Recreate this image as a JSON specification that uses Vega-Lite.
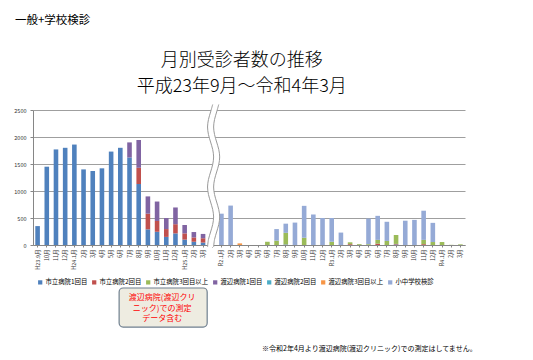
{
  "$schema": "https://vega.github.io/schema/vega-lite/v6.json",
  "width": 432,
  "height": 135,
  "autosize": {"type": "none"},
  "padding": {"left": 33, "top": 110, "right": 68, "bottom": 115},
  "background": "white",
  "config": {
    "view": {"stroke": null},
    "numberFormat": "d",
    "axisY": {
      "tickCount": 5,
      "grid": true,
      "gridColor": "#868686",
      "gridWidth": 0.8,
      "domainColor": "#868686",
      "tickColor": "#868686",
      "tickSize": 3,
      "labelFont": "Noto Sans CJK JP",
      "labelFontSize": 5.5,
      "labelColor": "#333333",
      "labelPadding": 4
    }
  },
  "datasets": {
    "counts": [
      {"m": "H23.9", "s": "市立病院1回目", "v": 350},
      {"m": "H23.10", "s": "市立病院1回目", "v": 1450},
      {"m": "H23.11", "s": "市立病院1回目", "v": 1770},
      {"m": "H23.12", "s": "市立病院1回目", "v": 1800},
      {"m": "H24.1", "s": "市立病院1回目", "v": 1860},
      {"m": "H24.2", "s": "市立病院1回目", "v": 1400},
      {"m": "H24.3", "s": "市立病院1回目", "v": 1370},
      {"m": "H24.4", "s": "市立病院1回目", "v": 1420},
      {"m": "H24.5", "s": "市立病院1回目", "v": 1730},
      {"m": "H24.6", "s": "市立病院1回目", "v": 1800},
      {"m": "H24.7", "s": "市立病院1回目", "v": 1620},
      {"m": "H24.7", "s": "渡辺病院1回目", "v": 280},
      {"m": "H24.8", "s": "市立病院1回目", "v": 1130},
      {"m": "H24.8", "s": "市立病院2回目", "v": 300},
      {"m": "H24.8", "s": "渡辺病院1回目", "v": 515},
      {"m": "H24.9", "s": "市立病院1回目", "v": 290},
      {"m": "H24.9", "s": "市立病院2回目", "v": 290},
      {"m": "H24.9", "s": "渡辺病院1回目", "v": 320},
      {"m": "H24.10", "s": "市立病院1回目", "v": 245},
      {"m": "H24.10", "s": "市立病院2回目", "v": 200},
      {"m": "H24.10", "s": "渡辺病院1回目", "v": 360},
      {"m": "H24.11", "s": "市立病院1回目", "v": 150},
      {"m": "H24.11", "s": "市立病院2回目", "v": 145},
      {"m": "H24.11", "s": "渡辺病院1回目", "v": 205},
      {"m": "H24.12", "s": "市立病院1回目", "v": 215},
      {"m": "H24.12", "s": "市立病院2回目", "v": 170},
      {"m": "H24.12", "s": "渡辺病院1回目", "v": 310},
      {"m": "H25.1", "s": "市立病院1回目", "v": 100},
      {"m": "H25.1", "s": "市立病院2回目", "v": 115},
      {"m": "H25.1", "s": "渡辺病院1回目", "v": 155},
      {"m": "H25.2", "s": "市立病院1回目", "v": 60},
      {"m": "H25.2", "s": "市立病院2回目", "v": 80},
      {"m": "H25.2", "s": "渡辺病院1回目", "v": 100},
      {"m": "H25.3", "s": "市立病院1回目", "v": 45},
      {"m": "H25.3", "s": "市立病院2回目", "v": 80},
      {"m": "H25.3", "s": "渡辺病院1回目", "v": 80},
      {"m": "R2.1", "s": "小中学校検診", "v": 580},
      {"m": "R2.2", "s": "小中学校検診", "v": 730},
      {"m": "R2.3", "s": "渡辺病院3回目以上", "v": 30},
      {"m": "R2.6", "s": "市立病院3回目以上", "v": 60},
      {"m": "R2.7", "s": "市立病院3回目以上", "v": 80},
      {"m": "R2.7", "s": "小中学校検診", "v": 215},
      {"m": "R2.8", "s": "市立病院1回目", "v": 10},
      {"m": "R2.8", "s": "市立病院3回目以上", "v": 215},
      {"m": "R2.8", "s": "小中学校検診", "v": 170},
      {"m": "R2.9", "s": "小中学校検診", "v": 415},
      {"m": "R2.10", "s": "市立病院3回目以上", "v": 135},
      {"m": "R2.10", "s": "小中学校検診", "v": 590},
      {"m": "R2.11", "s": "小中学校検診", "v": 565},
      {"m": "R2.12", "s": "小中学校検診", "v": 500},
      {"m": "R3.1", "s": "市立病院3回目以上", "v": 60},
      {"m": "R3.1", "s": "小中学校検診", "v": 440},
      {"m": "R3.2", "s": "小中学校検診", "v": 230},
      {"m": "R3.3", "s": "市立病院2回目", "v": 15},
      {"m": "R3.3", "s": "市立病院3回目以上", "v": 35},
      {"m": "R3.4", "s": "市立病院3回目以上", "v": 15},
      {"m": "R3.5", "s": "市立病院3回目以上", "v": 15},
      {"m": "R3.5", "s": "小中学校検診", "v": 475},
      {"m": "R3.6", "s": "市立病院2回目", "v": 25},
      {"m": "R3.6", "s": "市立病院3回目以上", "v": 70},
      {"m": "R3.6", "s": "小中学校検診", "v": 445},
      {"m": "R3.7", "s": "市立病院3回目以上", "v": 75},
      {"m": "R3.7", "s": "小中学校検診", "v": 355},
      {"m": "R3.8", "s": "市立病院1回目", "v": 10},
      {"m": "R3.8", "s": "市立病院2回目", "v": 10},
      {"m": "R3.8", "s": "市立病院3回目以上", "v": 165},
      {"m": "R3.9", "s": "小中学校検診", "v": 450},
      {"m": "R3.10", "s": "小中学校検診", "v": 465},
      {"m": "R3.11", "s": "市立病院2回目", "v": 15},
      {"m": "R3.11", "s": "市立病院3回目以上", "v": 80},
      {"m": "R3.11", "s": "小中学校検診", "v": 540},
      {"m": "R3.12", "s": "市立病院3回目以上", "v": 55},
      {"m": "R3.12", "s": "小中学校検診", "v": 355},
      {"m": "R4.1", "s": "市立病院3回目以上", "v": 55},
      {"m": "R4.2", "s": "市立病院3回目以上", "v": 3},
      {"m": "R4.3", "s": "市立病院3回目以上", "v": 12}
    ],
    "series": [
      {"s": "市立病院1回目", "k": 1},
      {"s": "市立病院2回目", "k": 2},
      {"s": "市立病院3回目以上", "k": 3},
      {"s": "渡辺病院1回目", "k": 4},
      {"s": "渡辺病院2回目", "k": 5},
      {"s": "渡辺病院3回目以上", "k": 6},
      {"s": "小中学校検診", "k": 7}
    ],
    "wave": [
      {"wy": 2602, "wl": 19.55, "wr": 20.21},
      {"wy": 2463, "wl": 19.32, "wr": 19.98},
      {"wy": 2324, "wl": 19.09, "wr": 19.75},
      {"wy": 2185, "wl": 18.99, "wr": 19.65},
      {"wy": 2046, "wl": 19.09, "wr": 19.75},
      {"wy": 1907, "wl": 19.32, "wr": 19.98},
      {"wy": 1769, "wl": 19.55, "wr": 20.21},
      {"wy": 1630, "wl": 19.65, "wr": 20.31},
      {"wy": 1491, "wl": 19.55, "wr": 20.21},
      {"wy": 1352, "wl": 19.32, "wr": 19.98},
      {"wy": 1213, "wl": 19.09, "wr": 19.75},
      {"wy": 1074, "wl": 18.99, "wr": 19.65},
      {"wy": 935, "wl": 19.09, "wr": 19.75},
      {"wy": 796, "wl": 19.32, "wr": 19.98},
      {"wy": 657, "wl": 19.55, "wr": 20.21},
      {"wy": 519, "wl": 19.65, "wr": 20.31},
      {"wy": 380, "wl": 19.55, "wr": 20.21},
      {"wy": 241, "wl": 19.32, "wr": 19.98},
      {"wy": 102, "wl": 19.09, "wr": 19.75},
      {"wy": -37, "wl": 18.99, "wr": 19.65}
    ],
    "one": [{}]
  },
  "layer": [
    {
      "data": {"name": "counts"},
      "transform": [
        {"lookup": "s", "from": {"data": {"name": "series"}, "key": "s", "fields": ["k"]}}
      ],
      "mark": {"type": "bar"},
      "encoding": {
        "x": {
          "field": "m",
          "type": "nominal",
          "sort": null,
          "scale": {
            "domain": ["H23.9", "H23.10", "H23.11", "H23.12", "H24.1", "H24.2", "H24.3", "H24.4", "H24.5", "H24.6", "H24.7", "H24.8", "H24.9", "H24.10", "H24.11", "H24.12", "H25.1", "H25.2", "H25.3", "gap", "R2.1", "R2.2", "R2.3", "R2.4", "R2.5", "R2.6", "R2.7", "R2.8", "R2.9", "R2.10", "R2.11", "R2.12", "R3.1", "R3.2", "R3.3", "R3.4", "R3.5", "R3.6", "R3.7", "R3.8", "R3.9", "R3.10", "R3.11", "R3.12", "R4.1", "R4.2", "R4.3"],
            "paddingInner": 0.5,
            "paddingOuter": 0.25
          },
          "axis": {
            "title": null,
            "labelAngle": -90,
            "labelFont": "Noto Sans CJK JP",
            "labelFontSize": 5.5,
            "labelColor": "#333333",
            "labelPadding": 2,
            "labelOverlap": false,
            "tickSize": 2,
            "tickColor": "#868686",
            "domainColor": "#868686",
            "labelExpr": "datum.value == 'gap' ? '' : ((datum.value == 'H23.9' || datum.value == 'R2.1' || split(datum.value, '.')[1] == '1') ? datum.value + '月' : split(datum.value, '.')[1] + '月')"
          }
        },
        "y": {
          "field": "v",
          "type": "quantitative",
          "title": null,
          "stack": "zero",
          "scale": {"domain": [0, 2500], "nice": false}
        },
        "color": {
          "field": "s",
          "type": "nominal",
          "scale": {
            "domain": ["市立病院1回目", "市立病院2回目", "市立病院3回目以上", "渡辺病院1回目", "渡辺病院2回目", "渡辺病院3回目以上", "小中学校検診"],
            "range": ["#4F81BD", "#C0504D", "#9BBB59", "#8064A2", "#4BACC6", "#F79646", "#95AAD6"]
          },
          "legend": {
            "title": null,
            "orient": "none",
            "legendX": 4,
            "legendY": 169,
            "direction": "horizontal",
            "columns": 7,
            "columnPadding": 3,
            "symbolType": "square",
            "symbolSize": 18,
            "symbolStrokeWidth": 0,
            "labelFont": "Noto Sans CJK JP",
            "labelFontSize": 6.4,
            "labelColor": "#000000",
            "labelOffset": 2
          }
        },
        "order": {"field": "k", "type": "quantitative", "sort": "ascending"}
      }
    },
    {
      "layer": [
        {
          "data": {"name": "wave"},
          "mark": {"type": "area", "orient": "horizontal", "interpolate": "cardinal", "fill": "white"},
          "encoding": {
            "x": {"field": "wl", "type": "quantitative", "stack": null, "scale": {"domain": [0, 47], "nice": false, "zero": false}, "axis": null},
            "x2": {"field": "wr"},
            "y": {"field": "wy", "type": "quantitative", "title": null}
          }
        },
        {
          "data": {"name": "wave"},
          "mark": {"type": "line", "interpolate": "cardinal", "color": "#9a9a9a", "strokeWidth": 1},
          "encoding": {
            "x": {"field": "wl", "type": "quantitative", "scale": {"domain": [0, 47], "nice": false, "zero": false}, "axis": null},
            "y": {"field": "wy", "type": "quantitative", "title": null},
            "order": {"field": "wy", "type": "quantitative"}
          }
        },
        {
          "data": {"name": "wave"},
          "mark": {"type": "line", "interpolate": "cardinal", "color": "#9a9a9a", "strokeWidth": 1},
          "encoding": {
            "x": {"field": "wr", "type": "quantitative", "scale": {"domain": [0, 47], "nice": false, "zero": false}, "axis": null},
            "y": {"field": "wy", "type": "quantitative", "title": null},
            "order": {"field": "wy", "type": "quantitative"}
          }
        },
        {
          "data": {"name": "one"},
          "mark": {"type": "rect", "fill": "#EEECE1", "stroke": "#6F7F8F", "strokeWidth": 1.2, "cornerRadius": 4},
          "encoding": {
            "x": {"datum": 9.37, "type": "quantitative", "scale": {"domain": [0, 47], "nice": false, "zero": false}, "axis": null},
            "x2": {"datum": 18.95},
            "y": {"datum": -796, "type": "quantitative", "title": null},
            "y2": {"datum": -1519}
          }
        },
        {
          "data": {"name": "one"},
          "mark": {"type": "text", "color": "#FF0000", "font": "Noto Sans CJK JP", "fontSize": 8, "lineHeight": 10.5, "align": "center", "baseline": "middle"},
          "encoding": {
            "x": {"datum": 14.05, "type": "quantitative", "scale": {"domain": [0, 47], "nice": false, "zero": false}, "axis": null},
            "y": {"datum": -982, "type": "quantitative", "title": null},
            "text": {"value": ["渡辺病院(渡辺クリ", "ニック)での測定", "データ含む"]}
          }
        },
        {
          "data": {"name": "one"},
          "mark": {"type": "text", "color": "#000000", "font": "Noto Sans CJK JP", "fontSize": 7, "align": "left", "baseline": "middle"},
          "encoding": {
            "x": {"datum": 24.92, "type": "quantitative", "scale": {"domain": [0, 47], "nice": false, "zero": false}, "axis": null},
            "y": {"datum": -1926, "type": "quantitative", "title": null},
            "text": {"value": "※令和2年4月より渡辺病院(渡辺クリニック)での測定はしてません。"}
          }
        },
        {
          "data": {"name": "one"},
          "mark": {"type": "text", "color": "#000000", "font": "Noto Sans CJK JP", "fontSize": 11.5, "align": "left", "baseline": "middle"},
          "encoding": {
            "x": {"datum": -1.96, "type": "quantitative", "scale": {"domain": [0, 47], "nice": false, "zero": false}, "axis": null},
            "y": {"datum": 4154, "type": "quantitative", "title": null},
            "text": {"value": "一般+学校検診"}
          }
        },
        {
          "data": {"name": "one"},
          "mark": {"type": "text", "color": "#000000", "font": "Noto Sans CJK JP", "fontSize": 18, "fontWeight": 300, "lineHeight": 26, "align": "center", "baseline": "middle"},
          "encoding": {
            "x": {"datum": 22.71, "type": "quantitative", "scale": {"domain": [0, 47], "nice": false, "zero": false}, "axis": null},
            "y": {"datum": 3408, "type": "quantitative", "title": null},
            "text": {"value": ["月別受診者数の推移", "平成23年9月～令和4年3月"]}
          }
        }
      ]
    }
  ],
  "resolve": {"scale": {"x": "independent"}}
}
